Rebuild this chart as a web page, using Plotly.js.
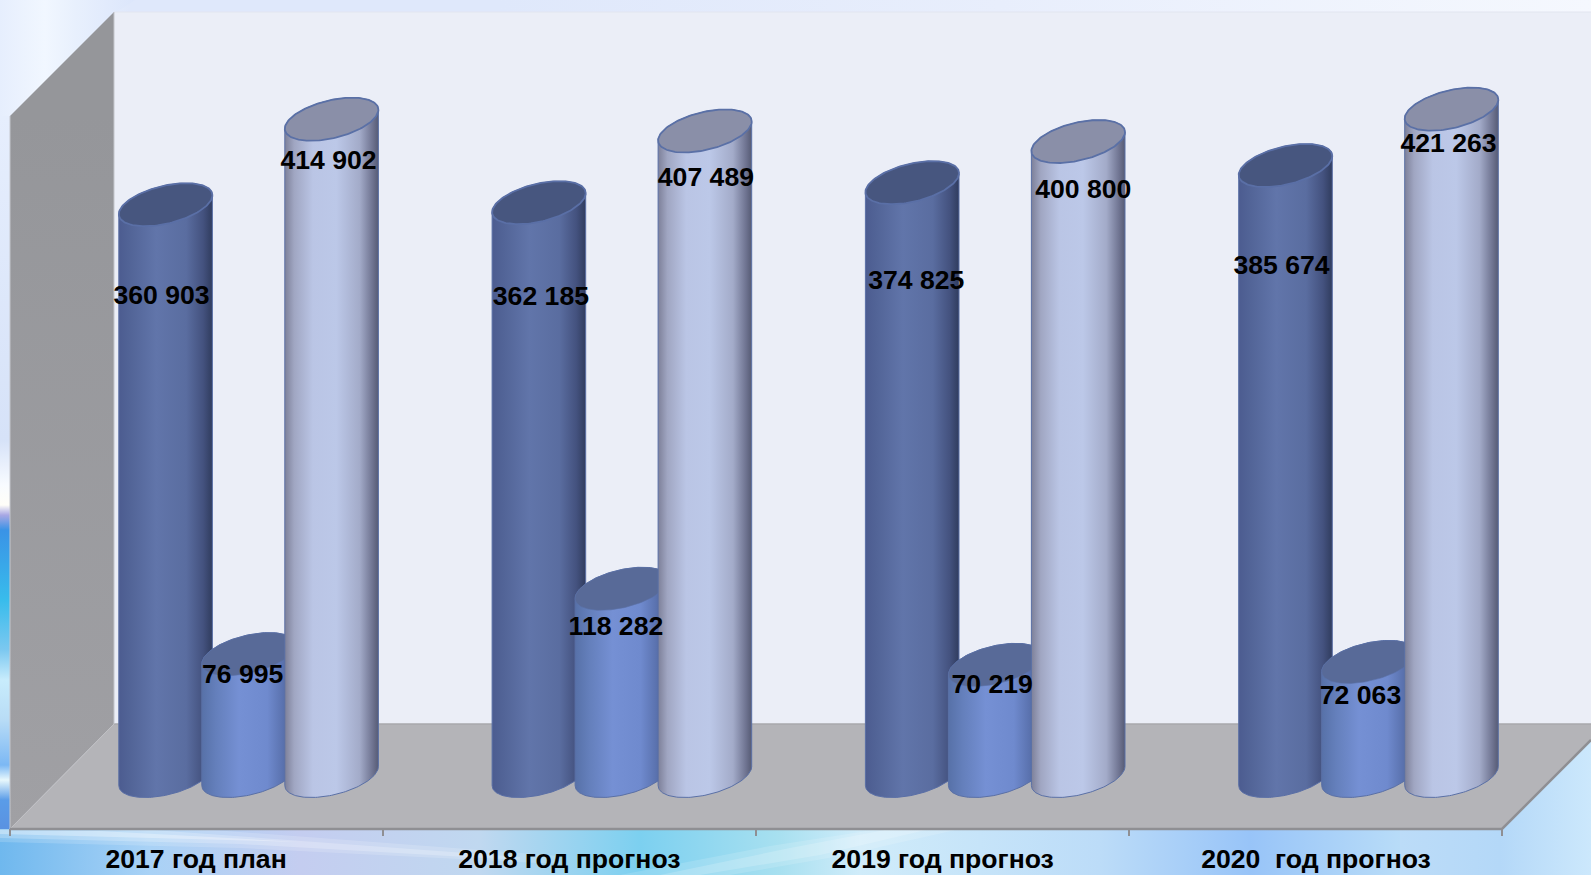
<!DOCTYPE html>
<html><head><meta charset="utf-8">
<script src="https://cdn.plot.ly/plotly-3.0.1.min.js"></script>
<style>html,body{margin:0;padding:0;overflow:hidden}#c{width:1591px;height:875px}</style></head>
<body><div id="c"></div>
<script>
const categories = ['2017 год план','2018 год прогноз','2019 год прогноз','2020  год прогноз'];
const seriesA = [360903,362185,374825,385674];
const seriesB = [76995,118282,70219,72063];
const seriesC = [414902,407489,400800,421263];

// label nudges, px
const labelDxA=[-4,2,4,-4], labelDyA=[93,96,100,102];
const labelDxB=[-6,-6,-3,-8], labelDyB=[22,40,22,35];
const labelDxC=[-3,1,5,-3], labelDyC=[43,48,50,36];

const W=1591,H=875, spacing=373.3, x0Px=248.6, y0Px=776, pxPerUnit=0.001583;
const xr=[-x0Px/spacing,(W-x0Px)/spacing], yr=[-(H-y0Px)/pxPerUnit,y0Px/pxPerUnit];
const X=p=>(p-x0Px)/spacing, Y=p=>(y0Px-p)/pxPerUnit;
const dX=p=>p/spacing, dY=p=>p/pxPerUnit;

const traces=[];
function poly(pts,o){ // pixel-space scenery
  const t={type:'scatter',mode:'lines',x:pts.map(p=>X(p[0])).concat(X(pts[0][0])),y:pts.map(p=>Y(p[1])).concat(Y(pts[0][1])),
    fill:'toself',line:{width:0},hoverinfo:'skip',showlegend:false};
  if(o.grad){const [k,stops]=o.grad;
    const lo=stops[0][0],hi=stops[stops.length-1][0];
    const a=k==='horizontal'?X(lo):Y(lo), b=k==='horizontal'?X(hi):Y(hi);
    t.fillgradient={type:k,start:a,stop:b,colorscale:stops.map(s=>[(s[0]-lo)/(hi-lo),s[1]])};
  } else t.fillcolor=o.fill;
  traces.push(t);
}
function seg(pts,color,width){traces.push({type:'scatter',mode:'lines',x:pts.map(p=>X(p[0])),y:pts.map(p=>Y(p[1])),line:{color,width},hoverinfo:'skip',showlegend:false});}

// backdrop
poly([[0,0],[W,0],[W,H],[0,H]],{fill:'#e2eafb'});
poly([[0,0],[W,0],[W,14],[0,14]],{grad:['horizontal',[[0,'#edf3fe'],[60,'#f0f6ff'],[130,'#dfe8fb'],[500,'#dfe8fb'],[1000,'#e8eefc'],[1591,'#f5f8fe']]]});
poly([[0,0],[135,0],[114,14],[10,118],[0,118]],{grad:['horizontal',[[0,'#e6eefd'],[45,'#f1f7ff'],[75,'#e8f0fd'],[135,'#dce6fb']]]});
poly([[0,116],[12,116],[12,835],[0,835]],{grad:['vertical',[[835,'#5a90e0'],[800,'#5a9ce8'],[780,'#e8f8fc'],[765,'#7cb8f4'],[720,'#b8dcf6'],[680,'#c8ecfc'],[650,'#7cc8f0'],[600,'#38bcec'],[530,'#3a93e6'],[515,'#a9a8e4'],[505,'#fffef8'],[485,'#f8fbff'],[440,'#d6e2f8'],[116,'#e6eefd']]]});
poly([[0,829],[W,829],[W,H],[0,H]],{grad:['horizontal',[[0,'#6fb8ee'],[150,'#a9d2f6'],[300,'#c4cdf0'],[480,'#c0d8f0'],[640,'#7cd0f0'],[780,'#a8e0f0'],[860,'#d0ecfa'],[1100,'#bcdcf8'],[1250,'#98c4f8'],[1400,'#b8dcf8'],[1591,'#c8e4fa']]]});
// soft streaks: each is layered from wide and faint to narrow
poly([[0,829],[200,829],[560,856],[560,864],[240,848],[0,842]],{fill:'rgba(255,255,255,0.16)'});
poly([[0,829],[140,829],[520,857],[520,860],[240,844],[0,838]],{fill:'rgba(255,255,255,0.22)'});
poly([[0,830],[100,831],[300,842],[120,837],[0,834]],{fill:'rgba(255,255,255,0.3)'});
poly([[620,875],[770,846],[880,829],[960,829],[840,856],[730,875]],{fill:'rgba(255,255,255,0.14)'});
poly([[660,875],[790,848],[890,829],[930,829],[820,855],[700,875]],{fill:'rgba(255,255,255,0.18)'});
poly([[1502,829],[W,740],[W,875],[1400,875],[1400,829]],{grad:['horizontal',[[1400,'#bcdcf8'],[1500,'#b4d8f8'],[1591,'#cce8fc']]]});

// walls
poly([[114,12],[W,12],[W,724],[114,724]],{fill:'#ebeef7'});
seg([[114,12],[W,12]],'#e2e5f0',1);
poly([[10,116],[114,12],[114,724],[10,829]],{grad:['vertical',[[829,'#a0a0a4'],[116,'#95969a']]]});
poly([[10,829],[114,724],[W,724],[W,740],[1502,829]],{fill:'#b4b4b8'});
seg([[114,724],[W,724]],'#a9a9ac',1.5);
seg([[10,116],[10,829]],'#c4c6cc',1);
seg([[114,12],[114,724]],'#c4c6cc',1);
seg([[10,829],[114,724]],'#c0c0c4',1);
seg([[10,829],[1502,829],[W,740]],'#8f8f93',2.5);
[10,383,756,1129,1502].forEach(t=>seg([[t,829],[t,836]],'#8f8f93',2));

// cylinders
const halfW=46.8, tilt=9.5, minor=19.3, offs=[-83,0,83];
const styles=[
 {body:[[0,'#4c5c90'],[0.12,'#526497'],[0.4,'#6175aa'],[0.72,'#5a6da0'],[0.9,'#44527f'],[1,'#303c5e']],cap:'#47567f',line:'#5a6fa6'},
 {body:[[0,'#5771a8'],[0.15,'#647fbb'],[0.4,'#7590d4'],[0.7,'#6f8ace'],[0.9,'#566da8'],[1,'#4a5e94']],cap:'#586a98',line:'#5a70a6'},
 {body:[[0,'#7d8099'],[0.1,'#a0a6c2'],[0.3,'#bac5e5'],[0.55,'#bcc8e8'],[0.8,'#a3abc9'],[0.94,'#6e7390'],[1,'#565b74']],cap:'#8a8fa8',line:'#5a70a6'}
];
function cyl(ci,s,v){
  const cx=ci+dX(offs[s]), st=styles[s], n=72;
  const ex=t=>cx+dX(halfW)*Math.cos(t), ey=(t,b)=>b+dY(tilt)*Math.cos(t)+dY(minor)*Math.sin(t);
  const bx=[],by=[],tx=[],ty=[];
  for(let i=0;i<=n;i++){const t=Math.PI+Math.PI*i/n; bx.push(ex(t)); by.push(ey(t,0));}
  for(let i=0;i<=n;i++){const t=Math.PI*i/n; bx.push(ex(t)); by.push(ey(t,v));}
  bx.push(bx[0]); by.push(by[0]);
  traces.push({type:'scatter',mode:'lines',x:bx,y:by,fill:'toself',line:{color:st.line,width:1},
    fillgradient:{type:'horizontal',start:cx-dX(halfW),stop:cx+dX(halfW),colorscale:st.body},hoverinfo:'skip',showlegend:false});
  for(let i=0;i<=n*2;i++){const t=Math.PI*i/n; tx.push(ex(t)); ty.push(ey(t,v));}
  traces.push({type:'scatter',mode:'lines',x:tx,y:ty,fill:'toself',fillcolor:st.cap,line:{color:st.line,width:s===1?0.6:1.8},hoverinfo:'skip',showlegend:false});
}
categories.forEach((c,i)=>{cyl(i,0,seriesA[i]);cyl(i,1,seriesB[i]);cyl(i,2,seriesC[i]);});

// labels
const fmt=v=>String(v).replace(/(\d{3})$/,' $1');
const lbl={family:'"Liberation Sans",Arial,sans-serif',size:26.6,color:'#000',weight:700};
[[seriesA,labelDxA,labelDyA,0],[seriesB,labelDxB,labelDyB,1],[seriesC,labelDxC,labelDyC,2]].forEach(([vals,dx,dy,s])=>{
  traces.push({type:'scatter',mode:'text',x:vals.map((v,i)=>i+dX(offs[s]+dx[i])),y:vals.map((v,i)=>v-dY(dy[i])),
    text:vals.map(fmt),textposition:'middle center',textfont:lbl,hoverinfo:'skip',showlegend:false,cliponaxis:false});
});
traces.push({type:'scatter',mode:'text',x:categories.map((c,i)=>i+dX(-52.5)),y:categories.map(()=>Y(861.5)),
  text:categories.map(c=>c.replace(/ /g,'\u00a0')),textposition:'middle center',textfont:{...lbl,size:26.6},hoverinfo:'skip',showlegend:false,cliponaxis:false});

Plotly.newPlot('c',traces,{
  width:W,height:H,margin:{l:0,r:0,t:0,b:0,pad:0},paper_bgcolor:'#e2eafb',plot_bgcolor:'rgba(0,0,0,0)',showlegend:false,
  xaxis:{range:xr,visible:false,fixedrange:true},yaxis:{range:yr,visible:false,fixedrange:true}
},{displayModeBar:false,staticPlot:true});
</script></body></html>
